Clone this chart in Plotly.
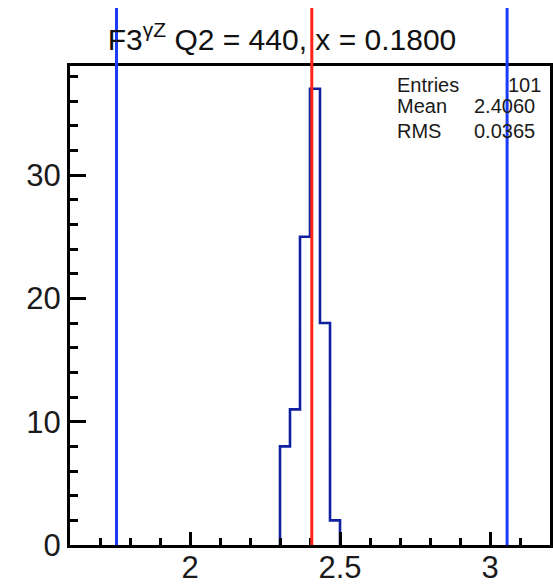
import plotly.graph_objects as go

# ---- data ----
bin_edges = [2.3, 2.3333, 2.3667, 2.4, 2.4333, 2.4667, 2.5]
counts = [8, 11, 25, 37, 18, 2]
mean_value = 2.406
band_lines = [1.755, 3.057]
x_range = [1.6, 3.2]
y_range = [0, 38.85]
x_tickvals = [2, 2.5, 3]
x_ticktext = ["2", "2.5", "3"]
y_tickvals = [0, 10, 20, 30]
y_ticktext = ["0", "10", "20", "30"]
stats_labels = ["Entries", "Mean", "RMS"]
stats_values = ["101", "2.4060", "0.0365"]
title_text = "F3<sup>γZ</sup> Q2 = 440, x = 0.1800"

W, H = 553, 584
ML, MR, MT, MB = 70, 3, 66, 39
FONT = "Liberation Sans, Arial, Helvetica, sans-serif"


def px_x(p):
    return (p - ML) / (W - ML - MR)


def px_y(p):
    return (H - MB - p) / (H - MT - MB)


fig = go.Figure()

step_x = [bin_edges[0]] + bin_edges
step_y = [0] + counts + [0]
fig.add_trace(go.Scatter(
    x=step_x, y=step_y, mode="lines", line_shape="hv",
    line=dict(color="#1020a0", width=2.6), showlegend=False, hoverinfo="skip",
))

for xv in band_lines:
    fig.add_shape(type="line", xref="x", yref="paper", x0=xv, x1=xv,
                  y0=0, y1=px_y(8), line=dict(color="#1a3cff", width=3), layer="above")
fig.add_shape(type="line", xref="x", yref="paper", x0=mean_value, x1=mean_value,
              y0=0, y1=px_y(8), line=dict(color="#ff2418", width=3), layer="above")

row_y = [85, 106, 131]
for lab, val, ry in zip(stats_labels, stats_values, row_y):
    fig.add_annotation(text=lab, xref="paper", yref="paper", x=px_x(395), y=px_y(ry),
                       xanchor="left", yanchor="middle", showarrow=False,
                       font=dict(family=FONT, size=20, color="#1a1a1a"))
    fig.add_annotation(text=val, xref="paper", yref="paper",
                       x=px_x(543 if lab == "Entries" else 537), y=px_y(ry),
                       xanchor="right", yanchor="middle", showarrow=False,
                       font=dict(family=FONT, size=20, color="#1a1a1a"))

fig.update_layout(
    width=W, height=H,
    margin=dict(l=ML, r=MR, t=MT, b=MB, pad=0, autoexpand=False),
    paper_bgcolor="white", plot_bgcolor="white",
    title=dict(text=title_text, x=282 / W, xref="container", xanchor="center",
               y=1 - 39 / H, yref="container", yanchor="middle",
               font=dict(family=FONT, size=30, color="#111111")),
    font=dict(family=FONT, color="#1a1a1a"),
)

fig.update_xaxes(
    range=x_range, showgrid=False, zeroline=False, automargin=False,
    showline=True, linecolor="black", linewidth=3, mirror=True,
    ticks="inside", ticklen=13, tickwidth=2.5, tickcolor="black",
    tickvals=x_tickvals, ticktext=x_ticktext, ticklabelstandoff=-7,
    tickfont=dict(family=FONT, size=31, color="#1a1a1a"),
    minor=dict(dtick=0.1, tick0=0, ticks="inside", ticklen=7, tickwidth=2.5, tickcolor="black"),
)
fig.update_yaxes(
    range=y_range, showgrid=False, zeroline=False, automargin=False,
    showline=True, linecolor="black", linewidth=3, mirror=True,
    ticks="inside", ticklen=16, tickwidth=2.5, tickcolor="black",
    tickvals=y_tickvals, ticktext=y_ticktext,
    tickfont=dict(family=FONT, size=31, color="#1a1a1a"),
    minor=dict(dtick=2, tick0=0, ticks="inside", ticklen=8, tickwidth=2.5, tickcolor="black"),
)

fig.write_html("out.html", config={"displayModeBar": False},
               post_script="document.body.style.margin='0';document.body.style.padding='0';")
